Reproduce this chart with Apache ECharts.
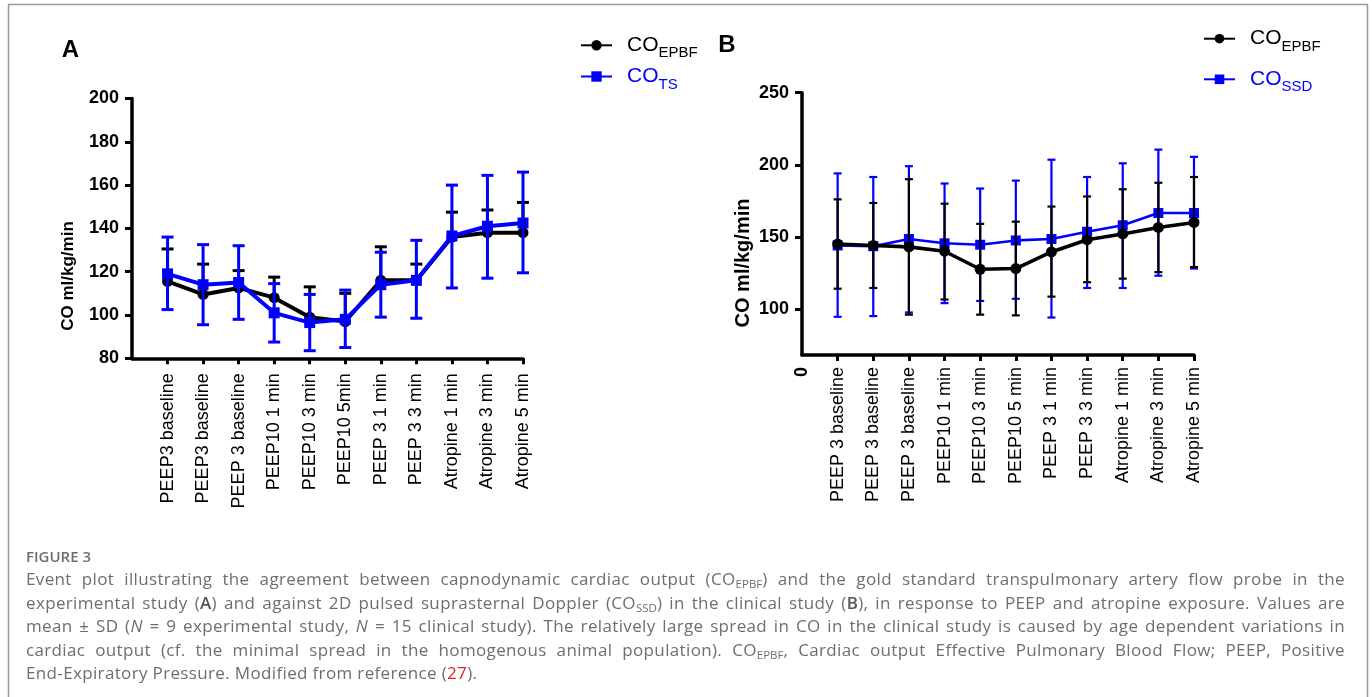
<!DOCTYPE html>
<html>
<head>
<meta charset="utf-8">
<script src="https://cdn.jsdelivr.net/npm/echarts@6/dist/echarts.min.js"></script>
<style>
html,body{margin:0;padding:0;background:#fff;}
#wrap{position:relative;width:1372px;height:697px;overflow:hidden;background:#fff;}
#chart{position:absolute;left:0;top:0;width:1372px;height:697px;}
#cap{position:absolute;left:26px;top:545px;width:1319px;font-family:'Open Sans',sans-serif;color:#6e6e6e;}
#cap .fig{font-size:15px;font-weight:600;line-height:22px;margin-bottom:0px;}
#cap .ln{font-size:17px;letter-spacing:0.35px;line-height:23.5px;text-align:justify;text-align-last:justify;}
#cap .last{text-align:left;text-align-last:left;}
#cap sub{font-size:11.5px;line-height:0;vertical-align:-3px;letter-spacing:0;}
#cap b{font-weight:600;color:#555;}
#cap .ref{color:#e0201c;}
</style>
</head>
<body>
<div id="wrap">
<div id="chart"></div>
<div id="cap">
<div class="fig">FIGURE 3</div>
<div class="ln">Event plot illustrating the agreement between capnodynamic cardiac output (CO<sub>EPBF</sub>) and the gold standard transpulmonary artery flow probe in the</div>
<div class="ln">experimental study (<b>A</b>) and against 2D pulsed suprasternal Doppler (CO<sub>SSD</sub>) in the clinical study (<b>B</b>), in response to PEEP and atropine exposure. Values are</div>
<div class="ln">mean ± SD (<i>N</i> = 9 experimental study, <i>N</i> = 15 clinical study). The relatively large spread in CO in the clinical study is caused by age dependent variations in</div>
<div class="ln">cardiac output (cf. the minimal spread in the homogenous animal population). CO<sub>EPBF</sub>, Cardiac output Effective Pulmonary Blood Flow; PEEP, Positive</div>
<div class="ln last">End-Expiratory Pressure. Modified from reference (<span class="ref">27</span>).</div>
</div>
</div>
<script>
// ---------- Data ----------
const categoriesA = ['PEEP3 baseline','PEEP3 baseline','PEEP 3 baseline','PEEP10 1 min','PEEP10 3 min','PEEP10 5min','PEEP 3 1 min','PEEP 3 3 min','Atropine 1 min','Atropine 3 min','Atropine 5 min'];
const categoriesB = ['PEEP 3 baseline','PEEP 3 baseline','PEEP 3 baseline','PEEP10 1 min','PEEP10 3 min','PEEP10 5 min','PEEP 3 1 min','PEEP 3 3 min','Atropine 1 min','Atropine 3 min','Atropine 5 min'];

const yTicksA = [80,100,120,140,160,180,200];
const yTicksB = [100,150,200,250];

// Panel A
const epbfA       = [115.5,109.5,112.5,108,99,97,116,116,136,138,138];
const epbfA_upper = [130.5,123.5,120.5,117.5,113,110,131.5,123.5,147.5,148.5,152];
const tsA         = [119,114,115,101,96.5,98,114,116,136.5,141,142.5];
const tsA_upper   = [136,132.5,132,114.5,109.5,111.5,129,134.5,160,164.5,166];
const tsA_lower   = [102.5,95.5,98,87.5,83.5,85,99,98.5,112.5,117,119.5];

// Panel B
const epbfB       = [145,144,143,140,127.5,128,139.5,148,152,156.5,160];
const epbfB_upper = [176,173.5,190,173,159,160.5,171,178,183,187.5,191.5];
const epbfB_lower = [114,114.5,96,106.5,96,95.5,108.5,118.5,121,125.5,129];
const ssdB        = [144,143.5,148.5,145.5,144.5,147.5,148.5,153.5,158,166.5,166.5];
const ssdB_upper  = [194,191.5,199,187,183.5,189,203.5,191.5,201,210.5,205.5];
const ssdB_lower  = [94.5,95,97.5,104,105.5,107,94,114.5,114.5,123,128];

// ---------- Helpers ----------
const BLUE = '#0000ff', BLACK = '#000000';
const FONT = 'Liberation Sans, Arial, sans-serif';
const pts = arr => arr.map((v,i) => [i+1, v]);
const errData = (lo, hi, lowCap) => hi.map((h,i) => [i+1, lo[i], h, lowCap ? 1 : 0]);
const idx = n => Array.from({length:n}, (_,i) => i+1);

function errRender(capHalf, lw, color) {
  return function (params, api) {
    const x = api.value(0);
    const t = api.coord([x, api.value(2)]);
    const b = api.coord([x, api.value(1)]);
    const st = {stroke: color, lineWidth: lw};
    const ch = [
      {type:'line', shape:{x1:t[0], y1:t[1], x2:b[0], y2:b[1]}, style:st},
      {type:'line', shape:{x1:t[0]-capHalf, y1:t[1], x2:t[0]+capHalf, y2:t[1]}, style:st}
    ];
    if (api.value(3)) ch.push({type:'line', shape:{x1:b[0]-capHalf, y1:b[1], x2:b[0]+capHalf, y2:b[1]}, style:st});
    return {type:'group', children: ch};
  };
}

function xAxis(gridIndex, cats, showZero, margin) {
  return {
    type:'value', gridIndex, min:0, max:11, interval:1,
    axisLine:{show:true, onZero:false, lineStyle:{color:BLACK, width:3.5}},
    axisTick:{show:true, length:6, lineStyle:{color:BLACK, width:3}, customValues: idx(11)},
    axisLabel:{rotate:90, margin, fontSize:18, color:BLACK, fontFamily:FONT,
      customValues: showZero ? [0].concat(idx(11)) : idx(11),
      formatter: v => v === 0 ? (showZero ? '{z|0}' : '') : cats[v-1],
      rich:{z:{fontSize:18, fontWeight:'bold', fontFamily:FONT, color:BLACK}}},
    splitLine:{show:false}
  };
}
function yAxis(gridIndex, min, max, ticks) {
  return {
    type:'value', gridIndex, min, max,
    axisLine:{show:true, onZero:false, lineStyle:{color:BLACK, width:3.5}},
    axisTick:{show:true, length:7, lineStyle:{color:BLACK, width:3}, customValues: ticks},
    axisLabel:{margin:13, fontSize:18, fontWeight:'bold', color:BLACK, fontFamily:FONT, customValues: ticks},
    splitLine:{show:false}
  };
}

const legendText = {
  'A_EPBF': '{m|CO}{s|EPBF}',
  'A_TS':   '{m|CO}{s|TS}',
  'B_EPBF': '{m|CO}{s|EPBF}',
  'B_SSD':  '{m|CO}{s|SSD}'
};
function mkLegend(name, left, top, color, itemH) {
  return {
    data:[{name, textStyle:{color}}], left, top, orient:'vertical',
    itemWidth:31, itemHeight:itemH, padding:0, selectedMode:false,
    formatter: n => legendText[n],
    textStyle:{color, fontFamily:FONT, padding:[0,0,0,10],
      rich:{m:{fontSize:21, fontFamily:FONT, color}, s:{fontSize:15, fontFamily:FONT, color, padding:[16,0,0,0]}}}
  };
}

const option = {
  animation:false,
  backgroundColor:'#ffffff',
  grid:[
    {left:132, top:98.5, width:391, height:259.8},
    {left:802, top:92.7, width:392, height:262.3}
  ],
  xAxis:[xAxis(0, categoriesA, false, 15), xAxis(1, categoriesB, true, 12)],
  yAxis:[yAxis(0, 80, 200, yTicksA), yAxis(1, 68, 250, yTicksB)],
  legend:[
    mkLegend('A_EPBF', 580, 34.8, BLACK, 13),
    mkLegend('A_TS', 580, 66, BLUE, 13),
    mkLegend('B_EPBF', 1203, 28.2, BLACK, 12),
    mkLegend('B_SSD', 1203, 68.8, BLUE, 12)
  ],
  graphic:[
    {type:'rect', shape:{x:8.5, y:4.5, width:1359, height:800}, style:{fill:'none', stroke:'#9a9a9a', lineWidth:1.5}, silent:true},
    {type:'text', x:70.5, y:50.5, style:{text:'A', font:'bold 24px '+FONT, fill:BLACK, align:'center', verticalAlign:'middle'}},
    {type:'text', x:727, y:45, style:{text:'B', font:'bold 24px '+FONT, fill:BLACK, align:'center', verticalAlign:'middle'}},
    {type:'text', x:68.5, y:276, rotation:Math.PI/2, style:{text:'CO ml/kg/min', font:'bold 17px '+FONT, fill:BLACK, align:'center', verticalAlign:'middle'}},
    {type:'text', x:743.5, y:263, rotation:Math.PI/2, style:{text:'CO ml/kg/min', font:'bold 20px '+FONT, fill:BLACK, align:'center', verticalAlign:'middle'}}
  ],
  series:[
    // Panel A: black below, blue on top
    {type:'custom', name:'errA_EPBF', xAxisIndex:0, yAxisIndex:0, z:1, renderItem: errRender(6, 3, BLACK),
      encode:{x:0, y:[1,2]}, data: errData(epbfA, epbfA_upper, false)},
    {type:'line', name:'A_EPBF', xAxisIndex:0, yAxisIndex:0, z:2, data: pts(epbfA),
      symbol:'circle', symbolSize:11, color:BLACK, lineStyle:{color:BLACK, width:4}, itemStyle:{color:BLACK}},
    {type:'custom', name:'errA_TS', xAxisIndex:0, yAxisIndex:0, z:3, renderItem: errRender(6, 3, BLUE),
      encode:{x:0, y:[1,2]}, data: errData(tsA_lower, tsA_upper, true)},
    {type:'line', name:'A_TS', xAxisIndex:0, yAxisIndex:0, z:4, data: pts(tsA),
      symbol:'rect', symbolSize:11, color:BLUE, lineStyle:{color:BLUE, width:4}, itemStyle:{color:BLUE}},
    // Panel B: blue below, black on top
    {type:'custom', name:'errB_SSD', xAxisIndex:1, yAxisIndex:1, z:1, renderItem: errRender(4, 2.2, BLUE),
      encode:{x:0, y:[1,2]}, data: errData(ssdB_lower, ssdB_upper, true)},
    {type:'line', name:'B_SSD', xAxisIndex:1, yAxisIndex:1, z:2, data: pts(ssdB),
      symbol:'rect', symbolSize:10, color:BLUE, lineStyle:{color:BLUE, width:2.6}, itemStyle:{color:BLUE}},
    {type:'custom', name:'errB_EPBF', xAxisIndex:1, yAxisIndex:1, z:3, renderItem: errRender(4, 2.2, BLACK),
      encode:{x:0, y:[1,2]}, data: errData(epbfB_lower, epbfB_upper, true)},
    {type:'line', name:'B_EPBF', xAxisIndex:1, yAxisIndex:1, z:4, data: pts(epbfB),
      symbol:'circle', symbolSize:11, color:BLACK, lineStyle:{color:BLACK, width:3.6}, itemStyle:{color:BLACK}}
  ]
};

const chart = echarts.init(document.getElementById('chart'), null, {renderer:'canvas'});
chart.setOption(option);
</script>
</body>
</html>
